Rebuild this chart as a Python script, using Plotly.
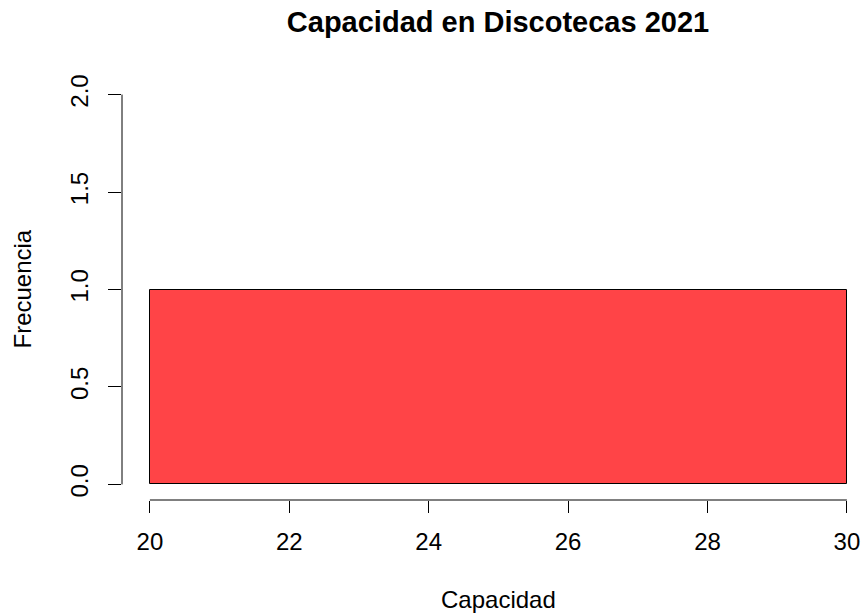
import plotly.graph_objects as go

# datos del histograma
bordes = [20, 30]
frecuencia = [1]
x_ticks = [20, 22, 24, 26, 28, 30]
y_ticks = [0.0, 0.5, 1.0, 1.5, 2.0]
y_ticktext = ['0.0', '0.5', '1.0', '1.5', '2.0']

centros = [(bordes[i] + bordes[i + 1]) / 2 for i in range(len(frecuencia))]
anchos = [bordes[i + 1] - bordes[i] for i in range(len(frecuencia))]

fuente = 'Liberation Sans, Arial, sans-serif'

fig = go.Figure()
fig.add_trace(go.Bar(x=centros, y=frecuencia, width=anchos,
                     marker=dict(color='#FF4447', line=dict(color='black', width=1))))

#lineas de ejes al estilo R (solo cubren el rango de ticks)
fig.add_shape(type='line', xref='x', yref='y domain', x0=min(x_ticks), x1=max(x_ticks), y0=0, y1=0,
              line=dict(color='black', width=1))
fig.add_shape(type='line', xref='x domain', yref='y', x0=0, x1=0, y0=min(y_ticks), y1=max(y_ticks),
              line=dict(color='black', width=1))

#titulos de ejes
fig.add_annotation(text='Capacidad', xref='paper', yref='paper', x=(498 - 122) / 740, y=-0.2375,
                   showarrow=False, xanchor='center', yanchor='middle', font=dict(size=24))
fig.add_annotation(text='Frecuencia', xref='paper', yref='paper', x=-0.1351, y=0.5, textangle=-90,
                   showarrow=False, xanchor='center', yanchor='middle', font=dict(size=24))

fig.update_layout(
    width=862, height=616,
    margin=dict(l=122, r=0, t=79, b=116),
    paper_bgcolor='white', plot_bgcolor='white',
    showlegend=False,
    title=dict(text='<b>Capacidad en Discotecas 2021</b>', x=498 / 862, xref='container', xanchor='center',
               y=1 - 22 / 616, yref='container', yanchor='middle',
               font=dict(family=fuente, size=29, color='black')),
    font=dict(family=fuente, size=24, color='black'),
    bargap=0,
)
fig.update_xaxes(range=[19.6, 19.6 + 740 / 69.7], tickvals=x_ticks, ticks='outside', ticklen=12,
                 tickcolor='black', tickwidth=1, showgrid=False, zeroline=False, showline=False,
                 ticklabelstandoff=8, automargin=False)
fig.update_yaxes(range=[-0.08, 2.08], tickvals=y_ticks, ticktext=y_ticktext, ticks='outside', ticklen=13,
                 tickcolor='black', tickwidth=1, showgrid=False, zeroline=False, showline=False,
                 tickangle=-90, ticklabelstandoff=10, automargin=False)

#quitar el margen por defecto del body para que la figura empiece en (0,0)
fig.write_html("out.html", post_script="document.body.style.margin='0';", config={'displayModeBar': False})
